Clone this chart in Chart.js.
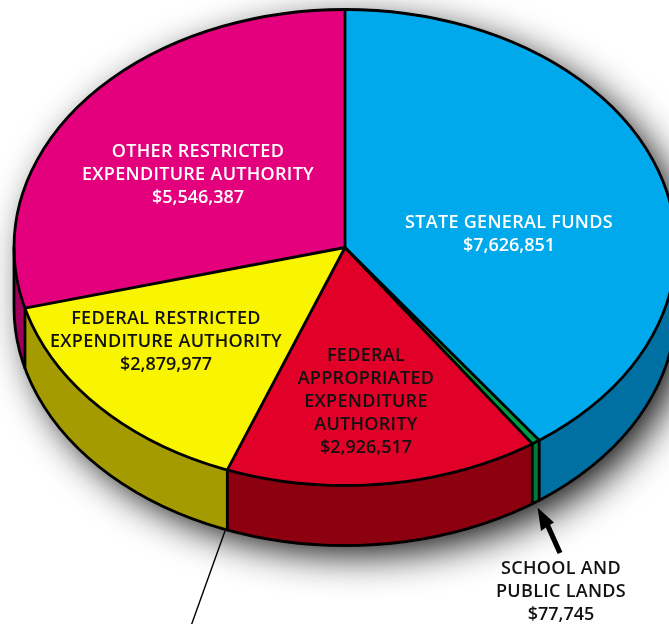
<!DOCTYPE html>
<html>
<head>
<meta charset="utf-8">
<style>
html,body{margin:0;padding:0;background:#fff;overflow:hidden;width:669px;height:624px}
#wrap{position:relative;width:669px;height:624px;overflow:hidden}
canvas{position:absolute;left:0;top:0}
</style>
<script src="https://cdn.jsdelivr.net/npm/chart.js@4"></script>
</head>
<body>
<div id="wrap"><canvas id="c" width="690" height="624" style="width:690px;height:624px"></canvas></div>
<script>
const categories = ["State General Funds","School and Public Lands","Federal Appropriated Expenditure Authority","Federal Restricted Expenditure Authority","Other Restricted Expenditure Authority"];
const values = [7626851,77745,2926517,2879977,5546387];
const topColors = ["#00a9ec","#009a44","#e10027","#f9f400","#e4007c"];
const wallColors = ["#006fa2","#007a35","#8c0010","#a39b00","#a0005a"];

const labelLines = [
  ["STATE GENERAL FUNDS","$7,626,851"],
  ["SCHOOL AND","PUBLIC LANDS","$77,745"],
  ["FEDERAL","APPROPRIATED","EXPENDITURE","AUTHORITY","$2,926,517"],
  ["FEDERAL RESTRICTED","EXPENDITURE AUTHORITY","$2,879,977"],
  ["OTHER RESTRICTED","EXPENDITURE AUTHORITY","$5,546,387"]
];
const labelColors = ["#fff","#111","#111","#111","#fff"];
const labelAnchors = [[509,223],[561,569],[366,356],[166,319],[198,152]];

const view = {cy:247.5, ry:238, depth:60, line:2.8};

const pie3d = {
  id:"pie3d",
  beforeDatasetsDraw(chart){
    const ctx = chart.ctx, arcs = chart.getDatasetMeta(0).data;
    const cx = arcs[0].x, rx = arcs[0].outerRadius, {cy,ry,depth:d} = view;
    ctx.save();
    ctx.save();
    ctx.shadowColor = "rgba(0,0,0,0.95)";
    ctx.shadowBlur = 38;
    ctx.shadowOffsetX = 12;
    ctx.shadowOffsetY = 11;
    ctx.fillStyle = "#000";
    ctx.beginPath();
    ctx.ellipse(cx,cy,rx-2,ry-2,0,Math.PI,0);
    ctx.ellipse(cx,cy+d,rx-2,ry-2,0,0,Math.PI);
    ctx.closePath();
    ctx.fill();
    ctx.restore();
    arcs.forEach((a,i)=>{
      const s = Math.max(a.startAngle,0), e = Math.min(a.endAngle,Math.PI);
      if (s>=e) return;
      ctx.beginPath();
      ctx.ellipse(cx,cy,rx,ry,0,s,e);
      ctx.ellipse(cx,cy+d,rx,ry,0,e,s,true);
      ctx.closePath();
      ctx.fillStyle = wallColors[i];
      ctx.fill();
    });
    ctx.restore();
    ctx.save();
    ctx.translate(0,cy);
    ctx.scale(1,ry/rx);
    ctx.translate(0,-arcs[0].y);
  },
  afterDatasetsDraw(chart){
    const ctx = chart.ctx, arcs = chart.getDatasetMeta(0).data;
    ctx.restore();
    const cx = arcs[0].x, rx = arcs[0].outerRadius, {cy,ry,depth:d,line} = view;
    ctx.save();
    ctx.strokeStyle = "#000";
    ctx.lineWidth = line;
    ctx.lineJoin = "round";
    ctx.lineCap = "round";
    ctx.beginPath();
    ctx.ellipse(cx,cy,rx,ry,0,0,Math.PI*2);
    ctx.stroke();
    ctx.beginPath();
    ctx.moveTo(cx-rx,cy);
    ctx.lineTo(cx-rx,cy+d);
    ctx.ellipse(cx,cy+d,rx,ry,0,Math.PI,0,true);
    ctx.lineTo(cx+rx,cy);
    ctx.stroke();
    arcs.forEach(a=>{
      const x = cx+rx*Math.cos(a.startAngle), y = cy+ry*Math.sin(a.startAngle);
      ctx.beginPath();
      ctx.moveTo(cx,cy);
      ctx.lineTo(x,y);
      if (Math.sin(a.startAngle)>0) ctx.lineTo(x,y+d);
      ctx.stroke();
    });
    // leader line
    ctx.lineWidth = 1.4;
    ctx.lineCap = "butt";
    ctx.beginPath();
    ctx.moveTo(225,531);
    ctx.lineTo(191,626);
    ctx.stroke();
    // arrow
    ctx.lineWidth = 5.2;
    ctx.beginPath();
    ctx.moveTo(560,553);
    ctx.lineTo(547,524);
    ctx.stroke();
    ctx.fillStyle = "#000";
    ctx.beginPath();
    ctx.moveTo(537.5,507.5);
    ctx.lineTo(554,522.5);
    ctx.lineTo(548,526);
    ctx.lineTo(541,531);
    ctx.closePath();
    ctx.fill();
    // labels
    ctx.textAlign = "center";
    ctx.textBaseline = "middle";
    ctx.font = "600 18px 'Open Sans'";
    labelLines.forEach((lines,i)=>{
      ctx.fillStyle = labelColors[i];
      lines.forEach((t,j)=>{
        ctx.letterSpacing = t[0]==="$" ? "0px" : "0.3px";
        ctx.fillText(t,labelAnchors[i][0],labelAnchors[i][1]+j*23);
      });
    });
    ctx.restore();
  }
};

new Chart(document.getElementById("c"),{
  type:"pie",
  data:{labels:categories,datasets:[{data:values,backgroundColor:topColors,borderWidth:0,clip:false}]},
  options:{
    responsive:false,
    animation:false,
    radius:331,
    rotation:0,
    layout:{padding:0},
    events:[],
    plugins:{legend:{display:false},tooltip:{enabled:false}}
  },
  plugins:[pie3d]
});
</script>
</body>
</html>
